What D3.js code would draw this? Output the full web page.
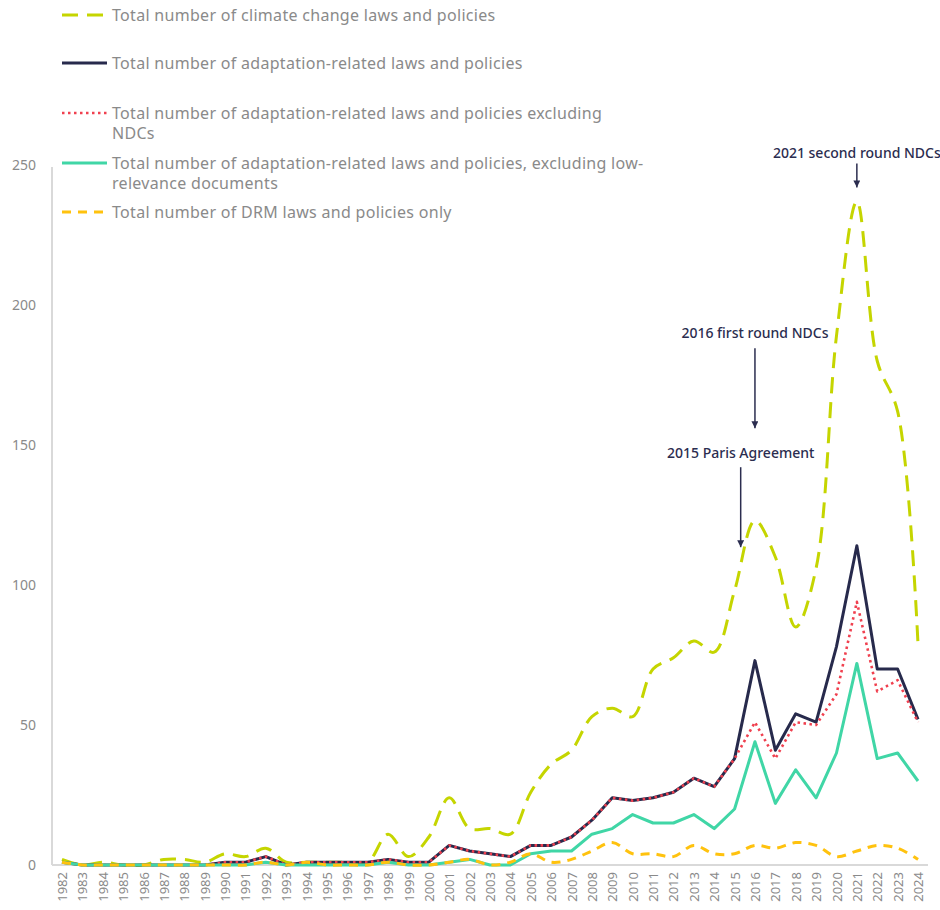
<!DOCTYPE html>
<html><head><meta charset="utf-8">
<script src="https://cdn.jsdelivr.net/npm/d3@7"></script>
<style>
html,body{margin:0;padding:0;background:#fff;}
svg{display:block;font-family:"Noto Sans",sans-serif;}
</style></head>
<body><svg id="chart" width="940" height="910"></svg>
<script>
const years = d3.range(1982, 2025);
const climateLaws = [2,0,1,0,0,2,2,1,4,3,6,1,1,1,1,1,11,3,10,24,13,13,11,26,36,41,53,56,53,70,74,80,76,98,123,110,85,106,189,237,180,162,79];
const adaptationLaws = [1,0,0,0,0,0,0,0,1,1,3,0,1,1,1,1,2,1,1,7,5,4,3,7,7,10,16,24,23,24,26,31,28,38,73,41,54,51,78,114,70,70,52];
const adaptationExclNDC = [1,0,0,0,0,0,0,0,1,1,3,0,1,1,1,1,2,1,1,7,5,4,3,7,7,10,16,24,23,24,26,31,28,38,51,38,51,50,61,94,62,66,51];
const adaptationExclLowRel = [1,0,0,0,0,0,0,0,0,0,1,0,0,0,0,0,1,0,0,1,2,0,0,4,5,5,11,13,18,15,15,18,13,20,44,22,34,24,40,72,38,40,30];
const drmLaws = [1,0,0,0,0,0,0,0,0,0,1,0,1,0,0,0,1,0,0,1,2,0,1,4,1,2,5,8,4,4,3,7,4,4,7,6,8,7,3,5,7,6,2];
const yTicks = [0,50,100,150,200,250];
const seriesNames = [
  ["Total number of climate change laws and policies"],
  ["Total number of adaptation-related laws and policies"],
  ["Total number of adaptation-related laws and policies excluding","NDCs"],
  ["Total number of adaptation-related laws and policies, excluding low-","relevance documents"],
  ["Total number of DRM laws and policies only"]
];
const annotations = [
  {label:"2021 second round NDCs", year:2021, tip:242, len:24, gap:5},
  {label:"2016 first round NDCs", year:2016, tip:156, len:80, gap:10},
  {label:"2015 Paris Agreement", year:2015.3, tip:113.5, len:80, gap:9}
];

const series = [
  {values:climateLaws, color:"#c5d500", width:3, dash:"16,9", smooth:true},
  {values:adaptationLaws, color:"#272a4c", width:3, dash:null, smooth:false},
  {values:adaptationExclNDC, color:"#f0404f", width:2.6, dash:"2.5,3.5", smooth:false},
  {values:adaptationExclLowRel, color:"#40d6a6", width:3, dash:null, smooth:false},
  {values:drmLaws, color:"#ffc20e", width:3, dash:"9,7", smooth:true}
];

const svg = d3.select("#chart");
const x = d3.scaleLinear().domain([1982, 2024]).range([62, 918]);
const y = d3.scaleLinear().domain([0, 250]).range([865, 165]);

// axes lines
svg.append("line").attr("x1",52).attr("x2",52).attr("y1",y(250)+2).attr("y2",y(0))
  .attr("stroke","#d9d9d9").attr("stroke-width",2);
svg.append("line").attr("x1",52).attr("x2",928).attr("y1",y(0)).attr("y2",y(0))
  .attr("stroke","#d9d9d9").attr("stroke-width",2);

// y tick labels
const yAxis = d3.axisLeft(y).tickValues(yTicks).tickSize(0).tickPadding(0);
const gy = svg.append("g").attr("transform","translate(36,0)").call(yAxis);
gy.select(".domain").remove();
gy.selectAll("text").attr("font-size",14).attr("fill","#8a8a8a").attr("font-family","Noto Sans");

// x tick labels
const xAxis = d3.axisBottom(x).tickValues(years).tickFormat(d3.format("d")).tickSize(0);
const gx = svg.append("g").attr("transform",`translate(0,${y(0)+7})`).call(xAxis);
gx.select(".domain").remove();
gx.selectAll("text").attr("font-size",13).attr("fill","#8a8a8a").attr("font-family","Noto Sans")
  .attr("transform","rotate(-90)").attr("text-anchor","end").attr("dy","0.35em").attr("x",0).attr("y",0)
  .attr("dx",0);

// lines
series.forEach(s => {
  const line = d3.line().x((d,i)=>x(years[i])).y(d=>y(d))
    .curve(s.smooth ? d3.curveCatmullRom.alpha(0.5) : d3.curveLinear);
  svg.append("path").datum(s.values).attr("d",line).attr("fill","none")
    .attr("stroke",s.color).attr("stroke-width",s.width)
    .attr("stroke-dasharray",s.dash).attr("stroke-linejoin","round");
});

// legend
const legendRows = [15, 63, 113, 163, 212];
seriesNames.forEach((lines,i) => {
  const s = series[i];
  const ry = legendRows[i];
  svg.append("line").attr("x1",62).attr("x2",107).attr("y1",ry).attr("y2",ry)
    .attr("stroke",s.color).attr("stroke-width",s.width).attr("stroke-dasharray",s.dash);
  const t = svg.append("text").attr("x",112).attr("y",ry)
    .attr("font-size",16).attr("letter-spacing","0.3px").attr("fill","#8a8a8a");
  lines.forEach((l,j)=>{
    t.append("tspan").attr("x",112).attr("dy", j===0 ? "0.35em" : "1.3em").text(l);
  });
});

// annotations
const navy = "#2b2d4f";
svg.append("defs").append("marker").attr("id","arr").attr("viewBox","0 0 10 10")
  .attr("refX",10).attr("refY",5).attr("markerWidth",7).attr("markerHeight",7)
  .attr("markerUnits","userSpaceOnUse").attr("orient","auto")
  .append("path").attr("d","M0,0L10,5L0,10Z").attr("fill",navy);
annotations.forEach(a => {
  const ax = x(a.year), tipY = y(a.tip);
  svg.append("line").attr("x1",ax).attr("x2",ax).attr("y1",tipY-a.len).attr("y2",tipY)
    .attr("stroke",navy).attr("stroke-width",1.5).attr("marker-end","url(#arr)");
  svg.append("text").attr("x",ax).attr("y",tipY-a.len-a.gap).attr("text-anchor","middle")
    .attr("font-size",14).attr("font-weight",500).attr("fill",navy).text(a.label);
});
</script></body></html>
